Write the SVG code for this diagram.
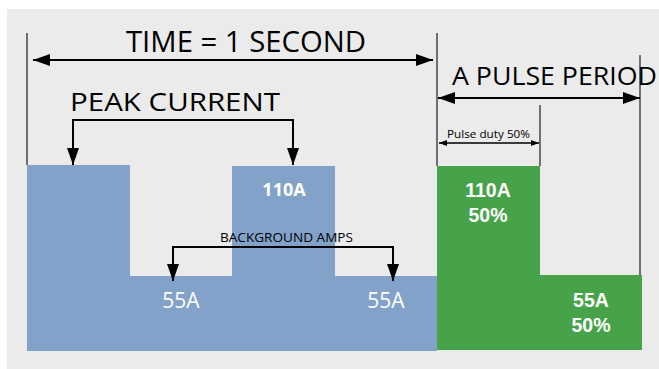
<svg xmlns="http://www.w3.org/2000/svg" width="659" height="369" viewBox="0 0 659 369">
<style>
.os{font-family:"Open Sans","Noto Sans","Liberation Sans",sans-serif;}
.ar{font-family:"Liberation Sans",Arial,sans-serif;font-weight:bold;fill:#fff;}
.lbl{fill:#000;}
.wt{fill:#fff;}
.guide{stroke:#707070;stroke-width:2;fill:none;}
.conn{stroke:#000;stroke-width:2;fill:none;}
.thin{stroke:#000;stroke-width:1.3;fill:none;}
</style>
<defs>
<marker id="ah" markerUnits="userSpaceOnUse" markerWidth="18" markerHeight="14" refX="17" refY="7" orient="auto-start-reverse" viewBox="0 0 18 14">
<path d="M0,1 L17,7 L0,13 z" fill="#000"/>
</marker>
<marker id="ahs" markerUnits="userSpaceOnUse" markerWidth="9" markerHeight="7" refX="8" refY="3.5" orient="auto-start-reverse" viewBox="0 0 9 7">
<path d="M0,0.5 L8,3.5 L0,6.5 z" fill="#000"/>
</marker>
</defs>
<rect x="7" y="9" width="652" height="360" fill="#ebebeb"/>
<g id="blue-waveform">
<polygon points="27,165 130,165 130,276 232,276 232,166 335,166 335,276 437,276 437,351 27,351" fill="#82a2c9"/>
<text class="os wt" x="284" y="196" font-size="18" font-weight="bold" text-anchor="middle">110A</text>
<text class="os wt" x="181" y="308" font-size="21" text-anchor="middle">55A</text>
<text class="os wt" x="386" y="308" font-size="21" text-anchor="middle">55A</text>
</g>
<g id="green-waveform">
<polygon points="437,166 540,166 540,275 642,275 642,350 437,350" fill="#47a349"/>
<text class="ar" x="488" y="197" font-size="19.5" text-anchor="middle">110A</text>
<text class="ar" x="488" y="222" font-size="19.5" text-anchor="middle">50%</text>
<text class="ar" x="591" y="307" font-size="19.5" text-anchor="middle">55A</text>
<text class="ar" x="591" y="332" font-size="19.5" text-anchor="middle">50%</text>
</g>
<g id="guides">
<line class="guide" x1="27" y1="33" x2="27" y2="165"/>
<line class="guide" x1="437" y1="33" x2="437" y2="166"/>
<line class="guide" x1="540" y1="105" x2="540" y2="166"/>
<line class="guide" x1="640" y1="55" x2="640" y2="275"/>
</g>
<g id="time-label">
<text class="os lbl" x="126" y="52" font-size="30" textLength="240" lengthAdjust="spacingAndGlyphs">TIME = 1 SECOND</text>
</g>
<g id="peak-label">
<text class="os lbl" x="70" y="111" font-size="25" textLength="210" lengthAdjust="spacingAndGlyphs">PEAK CURRENT</text>
</g>
<g id="pulse-period-label">
<text class="os lbl" x="452" y="85" font-size="25" textLength="205" lengthAdjust="spacingAndGlyphs">A PULSE PERIOD</text>
</g>
<g id="pulse-duty-label">
<text class="os lbl" x="447" y="138" font-size="10.5" textLength="83" lengthAdjust="spacingAndGlyphs">Pulse duty 50%</text>
</g>
<g id="background-label">
<text class="os lbl" x="220" y="242" font-size="13" textLength="133" lengthAdjust="spacingAndGlyphs">BACKGROUND AMPS</text>
</g>
<g id="connectors">
<line class="conn" x1="33" y1="60" x2="433" y2="60" marker-start="url(#ah)" marker-end="url(#ah)"/>
<line class="conn" x1="438" y1="98" x2="640" y2="98" marker-start="url(#ah)" marker-end="url(#ah)"/>
<line class="thin" x1="439" y1="143" x2="539" y2="143" marker-start="url(#ahs)" marker-end="url(#ahs)"/>
<path class="conn" d="M73,165 V120 H293 V165" marker-start="url(#ah)" marker-end="url(#ah)"/>
<path class="conn" d="M173,281 V247 H393 V281" marker-start="url(#ah)" marker-end="url(#ah)"/>
</g>
</svg>
